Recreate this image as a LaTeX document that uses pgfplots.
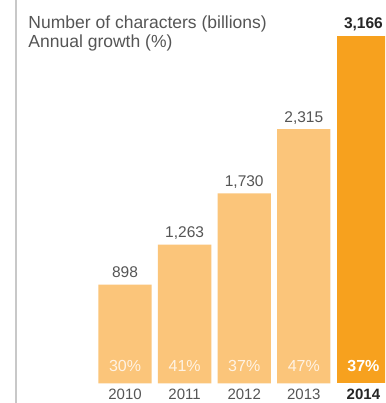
\documentclass[border=0pt]{standalone}
\usepackage{pgfplots}
\pgfplotsset{compat=1.18}
\usepackage{pgfplotstable}
\usepackage{fontspec}
\setmainfont{Liberation Sans}
\definecolor{lightbar}{RGB}{251,197,122}
\definecolor{darkbar}{RGB}{247,161,30}
\definecolor{txtgray}{RGB}{85,85,85}
\definecolor{pctlight}{RGB}{255,243,228}
\definecolor{vline}{RGB}{200,200,200}
\pgfplotstableread{
x y base label pct
0 898 0 898 30\%
1 1263 0 1,263 41\%
2 1730 0 1,730 37\%
3 2315 0 2,315 47\%
}\lighttab
\pgfplotstableread{
x y base label pct
4 3166 0 3,166 37\%
}\darktab
\begin{document}
\begin{tikzpicture}
\clip (-16pt,-19.7pt) rectangle (369pt,383.3pt);
\fill[white] (-16pt,-19.7pt) rectangle (369pt,383.3pt);
\begin{axis}[
  scale only axis, width=369pt, height=383.3pt,
  anchor=south west, at={(0,0)},
  xmin=-1.829, xmax=4.362, ymin=0, ymax=3491,
  axis line style={draw=none}, tick style={draw=none},
  ytick=\empty,
  xtick={0,1,2,3,4},
  xticklabels={2010,2011,2012,2013,{\textbf{\color{black!85}2014}}},
  x tick label style={anchor=base, inner sep=0pt, yshift=-16.3pt, font=\fontsize{15}{18}\selectfont, text=txtgray},
  clip=false,
]
\addplot[ybar, bar width=53.3pt, bar shift=0pt, fill=lightbar, draw=none,
  nodes near coords, point meta=explicit symbolic,
  every node near coord/.append style={anchor=base, yshift=7pt, font=\fontsize{15.5}{18}\selectfont, text=txtgray}]
  table[x=x, y=y, meta=label] {\lighttab};
\addplot[ybar, bar width=53.3pt, bar shift=0pt, fill=darkbar, draw=none,
  nodes near coords, point meta=explicit symbolic,
  every node near coord/.append style={anchor=base, yshift=7.5pt, font=\fontsize{15.5}{18}\selectfont\bfseries, text=black!85}]
  table[x=x, y=y, meta=label] {\darktab};
\addplot[draw=none, mark=none, nodes near coords, point meta=explicit symbolic,
  every node near coord/.append style={anchor=base, yshift=12.3pt, font=\fontsize{16}{18}\selectfont, text=pctlight}]
  table[x=x, y=base, meta=pct] {\lighttab};
\addplot[draw=none, mark=none, nodes near coords, point meta=explicit symbolic,
  every node near coord/.append style={anchor=base, yshift=12.3pt, font=\fontsize{16}{18}\selectfont\bfseries, text=white}]
  table[x=x, y=base, meta=pct] {\darktab};
\end{axis}
\draw[vline, line width=2pt] (0,-19.7pt) -- (0,383.3pt);
\node[anchor=base west, inner sep=0pt, text=txtgray, font=\fontsize{17.5}{18}\selectfont] at (12.3pt,355pt) {Number of characters (billions)};
\node[anchor=base west, inner sep=0pt, text=txtgray, font=\fontsize{17.5}{18}\selectfont] at (12.3pt,335.3pt) {Annual growth (\%)};
\end{tikzpicture}
\end{document}
